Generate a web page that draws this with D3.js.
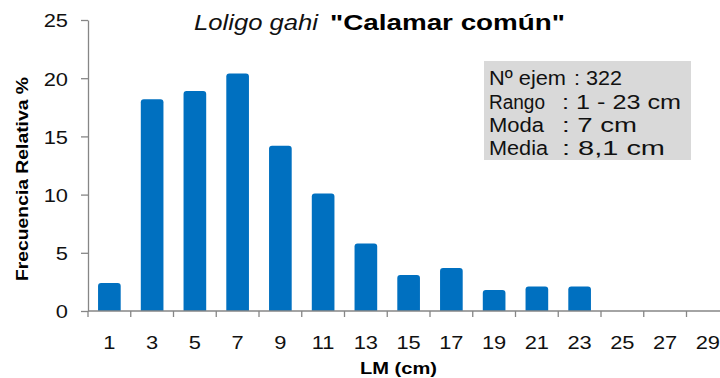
<!DOCTYPE html>
<html>
<head>
<meta charset="utf-8">
<script src="https://cdn.jsdelivr.net/npm/d3@7"></script>
<style>
  html, body { margin: 0; padding: 0; background: #fff; }
  svg { display: block; font-family: "Liberation Sans", Arial, sans-serif; }
</style>
</head>
<body>
<svg id="chart" width="720" height="378"></svg>
<script>
// Length classes (cm) and relative frequency (%)
const categories = ["1","3","5","7","9","11","13","15","17","19","21","23","25","27","29"];
const frecuencia = [2.4, 18.2, 18.9, 20.4, 14.2, 10.1, 5.8, 3.1, 3.7, 1.8, 2.1, 2.1, null, null, null];
const yTicks = [0, 5, 10, 15, 20, 25];
const statLabels = ["Nº ejem", "Rango", "Moda", "Media"];
const statValues = [": 322", ": 1 - 23 cm", ": 7 cm", ": 8,1 cm"];

const svg = d3.select("#chart");
const barColor = "#0070C0";
const axisColor = "#868686";

const x = d3.scaleBand()
  .domain(categories)
  .range([88, 88 + 15 * 42.75])
  .paddingInner(0.47)
  .paddingOuter(0.235);

const y = d3.scaleLinear().domain([0, 25]).range([311, 20]);

// widen text along its own direction
function stretch(sel, k) {
  sel.each(function () {
    const w = this.getComputedTextLength();
    d3.select(this).attr("textLength", w * k).attr("lengthAdjust", "spacingAndGlyphs");
  });
}

// bars with slightly rounded tops
const r = 3;
function barPath(d, i) {
  const x0 = x(categories[i]), w = x.bandwidth();
  const y0 = y(d), yb = y(0);
  return `M${x0},${yb}V${y0 + r}Q${x0},${y0} ${x0 + r},${y0}H${x0 + w - r}Q${x0 + w},${y0} ${x0 + w},${y0 + r}V${yb}Z`;
}
svg.append("g").selectAll("path")
  .data(frecuencia)
  .join("path")
  .filter(d => d != null)
  .attr("d", barPath)
  .attr("fill", barColor);

// y axis
const yAxis = svg.append("g")
  .attr("transform", `translate(${x.range()[0]},0)`)
  .call(d3.axisLeft(y).tickValues(yTicks).tickSize(7).tickSizeOuter(0).tickPadding(13));
yAxis.select(".domain").attr("stroke", axisColor).attr("stroke-width", 1.3);
yAxis.selectAll(".tick line").attr("stroke", axisColor).attr("stroke-width", 1.3);
yAxis.selectAll(".tick text")
  .attr("font-size", 19).attr("fill", "#111").attr("dy", "0.36em")
  .attr("font-family", "'Liberation Sans', Arial, sans-serif")
  .call(stretch, 1.15);

// x axis: line, boundary ticks, centred category labels
const xg = svg.append("g");
xg.append("line")
  .attr("x1", x.range()[0]).attr("x2", x.range()[1])
  .attr("y1", y(0)).attr("y2", y(0))
  .attr("stroke", axisColor).attr("stroke-width", 1.3);
xg.selectAll("line.tk")
  .data(d3.range(categories.length + 1))
  .join("line")
  .attr("class", "tk")
  .attr("x1", i => x.range()[0] + i * x.step())
  .attr("x2", i => x.range()[0] + i * x.step())
  .attr("y1", y(0)).attr("y2", y(0) + 6)
  .attr("stroke", axisColor).attr("stroke-width", 1.3);
xg.selectAll("text")
  .data(categories)
  .join("text")
  .attr("x", d => x(d) + x.bandwidth() / 2)
  .attr("y", 348.5)
  .attr("text-anchor", "middle")
  .attr("font-size", 19).attr("fill", "#111")
  .text(d => d)
  .call(stretch, 1.15);

// axis titles
svg.append("text")
  .attr("transform", "translate(27.5,179) rotate(-90)")
  .attr("text-anchor", "middle")
  .attr("font-size", 17).attr("font-weight", "bold").attr("fill", "#000")
  .text("Frecuencia Relativa %")
  .attr("textLength", 204).attr("lengthAdjust", "spacingAndGlyphs");

svg.append("text")
  .attr("x", 398.5).attr("y", 374)
  .attr("text-anchor", "middle")
  .attr("font-size", 17).attr("font-weight", "bold").attr("fill", "#000")
  .text("LM (cm)")
  .attr("textLength", 77).attr("lengthAdjust", "spacingAndGlyphs");

// title
svg.append("text")
  .attr("x", 194).attr("y", 30)
  .attr("font-size", 22).attr("font-style", "italic").attr("fill", "#111")
  .text("Loligo gahi")
  .attr("textLength", 124).attr("lengthAdjust", "spacingAndGlyphs");
svg.append("text")
  .attr("x", 330).attr("y", 30)
  .attr("font-size", 22).attr("font-weight", "bold").attr("fill", "#000")
  .text("\"Calamar común\"")
  .attr("textLength", 235).attr("lengthAdjust", "spacingAndGlyphs");

// summary box
const box = svg.append("g");
box.append("rect")
  .attr("x", 484).attr("y", 61).attr("width", 207).attr("height", 99)
  .attr("fill", "#d9d9d9");
const lineY = [85, 109, 132, 155];
const labelWidths = [77, 56, 55, 59];
const valueWidths = [48, 119, 75, 103];
box.selectAll("text.lab")
  .data(statLabels)
  .join("text")
  .attr("class", "lab")
  .attr("x", 489).attr("y", (d, i) => lineY[i])
  .attr("font-size", 20).attr("fill", "#111")
  .text(d => d)
  .attr("textLength", (d, i) => labelWidths[i]).attr("lengthAdjust", "spacingAndGlyphs");
box.selectAll("text.val")
  .data(statValues)
  .join("text")
  .attr("class", "val")
  .attr("x", (d, i) => i === 0 ? 574 : 562).attr("y", (d, i) => lineY[i])
  .attr("font-size", 20).attr("fill", "#111")
  .text(d => d)
  .attr("textLength", (d, i) => valueWidths[i]).attr("lengthAdjust", "spacingAndGlyphs");
</script>
</body>
</html>
